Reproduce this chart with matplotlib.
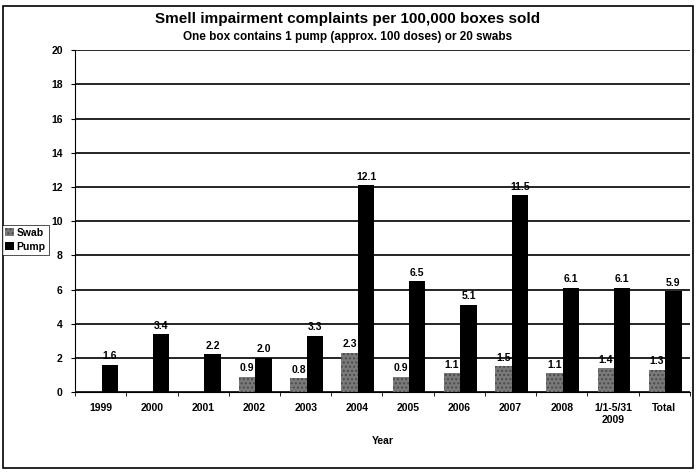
import matplotlib
matplotlib.use("Agg")
import matplotlib.pyplot as plt
import numpy as np
from matplotlib.patches import Rectangle

categories = ["1999", "2000", "2001", "2002", "2003", "2004", "2005", "2006", "2007", "2008", "1/1-5/31\n2009", "Total"]
swab = [None, None, None, 0.9, 0.8, 2.3, 0.9, 1.1, 1.5, 1.1, 1.4, 1.3]
pump = [1.6, 3.4, 2.2, 2.0, 3.3, 12.1, 6.5, 5.1, 11.5, 6.1, 6.1, 5.9]
yticks = [0, 2, 4, 6, 8, 10, 12, 14, 16, 18, 20]

plt.rcParams['font.family'] = ['Liberation Sans', 'DejaVu Sans']

fig = plt.figure(figsize=(6.96, 4.73), dpi=100)
ax = fig.add_axes([0.108, 0.171, 0.883, 0.723])

x = np.arange(len(categories))
w = 0.32
swab_vals = [v if v is not None else 0 for v in swab]
b1 = ax.bar(x - w/2 + 0.02, swab_vals, w, color='#7a7a7a', edgecolor='#4a4a4a', hatch='....', linewidth=0, label='Swab', zorder=3)
b2 = ax.bar(x + w/2 + 0.02, pump, w, color='black', label='Pump', zorder=3)

for i, v in enumerate(swab):
    if v is not None:
        ax.text(x[i] - w/2 + 0.02, v + 0.2, f"{v:.1f}", ha='center', va='bottom', fontsize=7.5, fontweight='bold', zorder=4)
for i, v in enumerate(pump):
    ax.text(x[i] + w/2 + 0.02, v + 0.2, f"{v:.1f}", ha='center', va='bottom', fontsize=7.5, fontweight='bold', zorder=4)

ax.set_ylim(0, 20)
ax.set_xlim(-0.5, len(categories) - 0.5)
ax.set_yticks(yticks)
ax.set_yticklabels([str(t) for t in yticks], fontsize=7.5, fontweight='bold')
ax.set_xticks(x)
ax.set_xticklabels(categories, fontsize=7.5, fontweight='bold')
ax.set_xticks(np.arange(len(categories) + 1) - 0.5, minor=True)
ax.tick_params(axis='x', which='major', length=0, pad=8)
ax.tick_params(axis='x', which='minor', length=3, direction='out')
ax.tick_params(axis='y', length=3, direction='out', pad=6)
ax.yaxis.grid(True, color='black', linewidth=1.2, zorder=0)
for s in ['top', 'right']:
    ax.spines[s].set_visible(False)
ax.spines['left'].set_linewidth(0.8)
ax.spines['bottom'].set_linewidth(0.8)
ax.set_xlabel("Year", fontsize=7.5, fontweight='bold', labelpad=8)

fig.text(0.5, 0.96, "Smell impairment complaints per 100,000 boxes sold", ha='center', va='center', fontsize=11, fontweight='bold')
fig.text(0.5, 0.922, "One box contains 1 pump (approx. 100 doses) or 20 swabs", ha='center', va='center', fontsize=8.5, fontweight='bold')

leg = fig.legend(handles=[b1, b2], loc='upper left', bbox_to_anchor=(0.003, 0.525), fontsize=7.5,
                 frameon=True, fancybox=False, edgecolor='black', handlelength=0.8, handleheight=0.8,
                 handletextpad=0.3, borderpad=0.3, labelspacing=0.4, borderaxespad=0)
for t in leg.get_texts():
    t.set_fontweight('bold')
leg.get_frame().set_linewidth(0.6)

fig.add_artist(Rectangle((0.004, 0.01), 0.992, 0.978, transform=fig.transFigure, fill=False, edgecolor='black', linewidth=1.2))

fig.savefig("out.png", dpi=100, facecolor='white')
